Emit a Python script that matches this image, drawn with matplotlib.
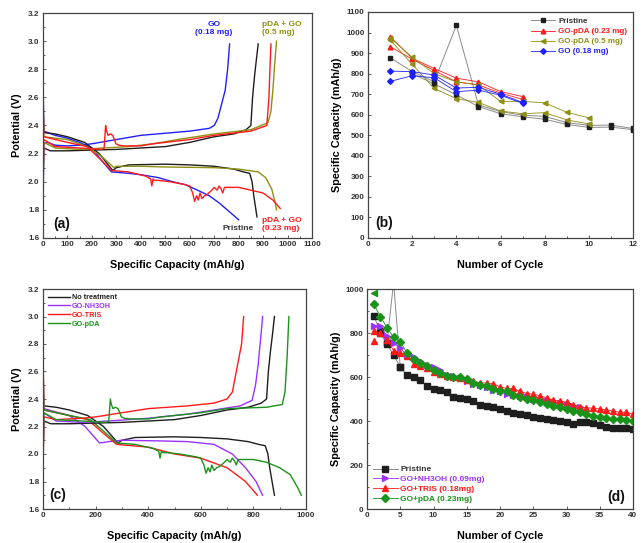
import matplotlib
matplotlib.use("Agg")
import matplotlib.pyplot as plt
import numpy as np
from matplotlib.ticker import MultipleLocator

plt.rcParams['font.family'] = ['Liberation Sans', 'DejaVu Sans']
plt.rcParams['font.weight'] = 'bold'

# ---------------- Panel (a) data: (capacity, potential) ----------------
a_go_dis_x = [0, 3, 50, 100, 150, 200, 240, 280, 350, 400, 470, 530, 580, 620, 680, 720, 760, 800]
a_go_dis_y = [2.8, 2.36, 2.33, 2.31, 2.28, 2.24, 2.15, 2.07, 2.06, 2.05, 2.03, 2.0, 1.98, 1.95, 1.9, 1.85, 1.79, 1.73]
a_go_chg_x = [0, 3, 20, 50, 100, 150, 200, 300, 400, 500, 600, 680, 700, 715, 730, 745, 755, 763]
a_go_chg_y = [1.7, 2.27, 2.28, 2.26, 2.255, 2.26, 2.27, 2.30, 2.33, 2.345, 2.36, 2.38, 2.40, 2.45, 2.55, 2.65, 2.8, 2.98]

a_pr_dis_x = [0, 3, 50, 100, 170, 230, 285, 300, 350, 500, 600, 700, 780, 820, 845, 855, 862, 875]
a_pr_dis_y = [2.7, 2.35, 2.34, 2.32, 2.28, 2.2, 2.08, 2.1, 2.12, 2.125, 2.12, 2.11, 2.09, 2.07, 2.06, 2.0, 1.9, 1.75]
a_pr_chg_x = [0, 3, 30, 100, 200, 300, 400, 500, 600, 700, 780, 830, 850, 857, 865, 872, 880]
a_pr_chg_y = [1.9, 2.24, 2.22, 2.22, 2.225, 2.23, 2.24, 2.25, 2.28, 2.32, 2.34, 2.37, 2.40, 2.6, 2.75, 2.86, 2.98]

a_p05_dis_x = [0, 3, 100, 180, 240, 290, 300, 400, 500, 700, 800, 880, 910, 935, 950, 955]
a_p05_dis_y = [2.6, 2.32, 2.3, 2.25, 2.18, 2.1, 2.11, 2.11, 2.105, 2.1, 2.09, 2.07, 2.03, 1.95, 1.85, 1.8]
a_p05_chg_x = [0, 3, 50, 150, 250, 350, 450, 550, 700, 850, 920, 932, 940, 948, 955]
a_p05_chg_y = [1.9, 2.28, 2.24, 2.23, 2.24, 2.25, 2.27, 2.30, 2.34, 2.37, 2.42, 2.5, 2.65, 2.85, 3.0]

a_p023_dis_x = [0, 3, 100, 180, 240, 280, 350, 420, 440, 445, 450, 455, 470, 520, 580, 600, 612, 620, 628, 635, 642, 650, 660, 672,
                690, 700, 712, 720, 728, 735, 742, 760, 800, 850, 900, 940, 970]
a_p023_dis_y = [2.6, 2.32, 2.28, 2.25, 2.15, 2.08, 2.07, 2.04, 2.02, 1.97, 2.02, 2.01, 2.01, 2.0, 1.98, 1.97, 1.92, 1.86, 1.9, 1.87, 1.92, 1.88, 1.9, 1.91,
                1.94, 1.96, 1.94, 1.97, 1.95, 1.92, 1.96, 1.96, 1.96, 1.94, 1.92, 1.87, 1.81]
a_p023_chg_x = [0, 3, 50, 150, 240, 250, 256, 260, 266, 275, 285, 292, 298, 310, 330, 400, 450, 600, 700, 850, 915, 924, 928, 932]
a_p023_chg_y = [1.9, 2.30, 2.25, 2.24, 2.23, 2.24, 2.40, 2.36, 2.33, 2.34, 2.33, 2.30, 2.27, 2.26, 2.255, 2.255, 2.27, 2.30, 2.33, 2.36, 2.40, 2.6, 2.8, 2.98]

# ---------------- Panel (c) data ----------------
c_nt_dis_x = a_pr_dis_x[:-1] + [880]
c_nt_dis_y = a_pr_dis_y[:-1] + [1.7]
c_nt_chg_x = a_pr_chg_x[:-1] + [880]
c_nt_chg_y = a_pr_chg_y[:-1] + [3.0]

c_nh_dis_x = [0, 3, 100, 160, 215, 250, 300, 450, 550, 650, 720, 770, 810, 835]
c_nh_dis_y = [2.5, 2.33, 2.28, 2.2, 2.08, 2.09, 2.1, 2.095, 2.09, 2.07, 2.0, 1.9, 1.8, 1.7]
c_nh_chg_x = [0, 3, 50, 150, 250, 400, 550, 650, 750, 795, 808, 818, 828, 835]
c_nh_chg_y = [1.9, 2.30, 2.24, 2.23, 2.24, 2.26, 2.29, 2.32, 2.35, 2.39, 2.5, 2.65, 2.85, 3.0]

c_tr_dis_x = [0, 3, 100, 170, 230, 280, 400, 500, 600, 700, 770, 815]
c_tr_dis_y = [2.8, 2.32, 2.28, 2.25, 2.15, 2.07, 2.05, 2.0, 1.97, 1.9, 1.8, 1.7]
c_tr_chg_x = [0, 3, 50, 150, 200, 300, 400, 550, 650, 700, 720, 740, 755, 763]
c_tr_chg_y = [1.8, 2.27, 2.25, 2.26, 2.27, 2.30, 2.33, 2.35, 2.37, 2.40, 2.45, 2.65, 2.8, 3.0]

c_pda_dis_x = a_p023_dis_x[:-3] + [900, 940, 970, 982]
c_pda_dis_y = a_p023_dis_y[:-3] + [1.9, 1.85, 1.75, 1.7]
c_pda_chg_x = [0, 3, 50, 150, 240, 250, 256, 260, 266, 275, 285, 292, 298, 310, 330, 400, 450, 600, 700, 850, 910, 920, 928, 935]
c_pda_chg_y = [1.9, 2.30, 2.25, 2.24, 2.23, 2.24, 2.40, 2.36, 2.33, 2.34, 2.33, 2.30, 2.27, 2.26, 2.255, 2.255, 2.27, 2.30, 2.33, 2.34, 2.36, 2.45, 2.7, 3.0]

# ---------------- Panel (b) data ----------------
b_cyc = list(range(1, 13))
b_pr_1 = [878, 810, 760, 1035, 648, 615, 598, 592, 562, 548, 550, 533]
b_pr_2 = [800, 750, 697, 640, 605, 590, 578, 553, 538, 540, 527]          # cycles 2-12
b_g023_1 = [980, 875, 825, 778, 760, 713, 688]
b_g023_2 = [932, 870, 815, 760, 745, 705, 675]
b_g05_1 = [975, 880, 800, 760, 745, 665, 665, 658, 612, 585]
b_g05_2 = [965, 845, 728, 678, 660, 618, 605, 610, 575, 555]
b_go_1 = [812, 810, 793, 730, 733, 700, 660]
b_go_2 = [762, 790, 780, 712, 720, 695, 655]

# ---------------- Panel (d) data ----------------
d_pr = [878, 810, 755, 1030, 645, 610, 598, 585, 560, 545, 543, 532, 510, 505, 500, 490, 473, 468, 465, 455,
        445, 435, 432, 428, 420, 415, 410, 405, 402, 395, 388, 395, 395, 390, 380, 375, 370, 368, 368, 365]
d_pr_2 = [800, 750, 700, 645]   # cycles 2-5
d_nh = [832, 830, 785, 755, 730, 700, 690, 672, 655, 645, 630, 610, 605, 595, 580, 570, 562, 555, 540, 535,
        525, 518, 515, 508, 500, 495, 490, 485, 480, 475, 468, 462]
d_tr = [810, 800, 770, 720, 710, 695, 660, 648, 640, 625, 615, 605, 598, 595, 585, 580, 575, 572, 570, 555,
        548, 548, 535, 525, 522, 515, 505, 495, 492, 485, 475, 465, 460, 458, 455, 450, 445, 440, 440, 430]
d_tr_first = [765]
d_pda = [932, 875, 825, 780, 760, 710, 680, 665, 650, 630, 620, 605, 598, 600, 590, 575, 565, 560, 545, 535,
         535, 520, 510, 498, 495, 485, 478, 470, 465, 455, 445, 440, 430, 425, 420, 415, 410, 408, 405, 400]
d_pda_first = [980]

BLACK = '#1e1e1e'
BLUE = '#2020ff'
RED = '#ff1a1a'
OLIVE = '#8f8f14'
GREEN = '#1a931a'
PURPLE = '#9a33ff'
GRAY = '#8a8a8a'

fig = plt.figure(figsize=(6.43, 5.43), dpi=100)
W, H = 643, 543
def add_ax(l, r, t, b):
    return fig.add_axes([l / W, 1 - b / H, (r - l) / W, (b - t) / H])

axA = add_ax(43, 312, 13, 238)
axB = add_ax(368, 633, 12, 238)
axC = add_ax(43, 306, 289, 509)
axD = add_ax(367, 633, 289, 509)

TICK_FS = 5.9
LAB_FS = 7.8
def style(ax):
    for s in ax.spines.values():
        s.set_color('#444444')
        s.set_linewidth(0.9)
    ax.tick_params(which='both', direction='in', colors='#444444', labelsize=TICK_FS, width=0.6)
    ax.tick_params(which='major', length=2.5, pad=2.5)
    ax.tick_params(which='minor', length=1.5)
    for lab in ax.get_xticklabels() + ax.get_yticklabels():
        lab.set_fontweight('bold')
        lab.set_color('#333333')

lw = 1.0
# Panel (a)
for xs, ys, c in [(a_go_dis_x, a_go_dis_y, BLUE), (a_go_chg_x, a_go_chg_y, BLUE),
                  (a_pr_dis_x, a_pr_dis_y, BLACK), (a_pr_chg_x, a_pr_chg_y, BLACK),
                  (a_p05_dis_x, a_p05_dis_y, OLIVE), (a_p05_chg_x, a_p05_chg_y, OLIVE),
                  (a_p023_dis_x, a_p023_dis_y, RED), (a_p023_chg_x, a_p023_chg_y, RED)]:
    axA.plot(xs, ys, color=c, lw=lw)
axA.set_xlim(0, 1100)
axA.set_ylim(1.6, 3.2)
axA.xaxis.set_major_locator(MultipleLocator(100))
axA.xaxis.set_minor_locator(MultipleLocator(50))
axA.yaxis.set_major_locator(MultipleLocator(0.2))
axA.yaxis.set_minor_locator(MultipleLocator(0.1))
axA.yaxis.set_major_formatter(matplotlib.ticker.FormatStrFormatter('%.1f'))
axA.set_xlabel('Specific Capacity (mAh/g)', fontsize=LAB_FS, fontweight='bold', labelpad=8)
axA.set_ylabel('Potential (V)', fontsize=LAB_FS, fontweight='bold', labelpad=4)
style(axA)
axA.text(40, 1.70, '(a)', fontsize=10, fontweight='bold', ha='left', va='center', color='#111111')
axA.text(700, 3.04, 'GO\n(0.18 mg)', color=BLUE, fontsize=6, fontweight='bold', ha='center', va='bottom', linespacing=1.1)
axA.text(895, 3.04, 'pDA + GO\n(0.5 mg)', color=OLIVE, fontsize=6, fontweight='bold', ha='left', va='bottom', linespacing=1.1)
axA.text(735, 1.665, 'Pristine', color='#333333', fontsize=6, fontweight='bold', ha='left', va='center')
axA.text(895, 1.695, 'pDA + GO\n(0.23 mg)', color=RED, fontsize=6, fontweight='bold', ha='left', va='center', linespacing=1.1)

# Panel (b)
ms = 3.4
axB.plot(b_cyc, b_pr_1, color=GRAY, lw=0.7, marker='s', ms=ms, mfc=BLACK, mec=BLACK, label='Pristine')
axB.plot(b_cyc[1:], b_pr_2, color=GRAY, lw=0.7, marker='s', ms=ms, mfc=BLACK, mec=BLACK)
axB.plot(b_cyc[:7], b_g023_1, color=RED, lw=0.6, marker='^', ms=ms, mfc=RED, mec=RED, label='GO-pDA (0.23 mg)')
axB.plot(b_cyc[:7], b_g023_2, color=RED, lw=0.6, marker='^', ms=ms, mfc=RED, mec=RED)
axB.plot(b_cyc[:10], b_g05_1, color=OLIVE, lw=0.6, marker='<', ms=ms, mfc=OLIVE, mec=OLIVE, label='GO-pDA (0.5 mg)')
axB.plot(b_cyc[:10], b_g05_2, color=OLIVE, lw=0.6, marker='<', ms=ms, mfc=OLIVE, mec=OLIVE)
axB.plot(b_cyc[:7], b_go_1, color=BLUE, lw=0.6, marker='D', ms=ms - 0.5, mfc=BLUE, mec=BLUE, label='GO (0.18 mg)')
axB.plot(b_cyc[:7], b_go_2, color=BLUE, lw=0.6, marker='D', ms=ms - 0.5, mfc=BLUE, mec=BLUE)
axB.set_xlim(0, 12)
axB.set_ylim(0, 1100)
axB.xaxis.set_major_locator(MultipleLocator(2))
axB.xaxis.set_minor_locator(MultipleLocator(1))
axB.yaxis.set_major_locator(MultipleLocator(100))
axB.set_xlabel('Number of Cycle', fontsize=LAB_FS, fontweight='bold', labelpad=8)
axB.set_ylabel('Specific Capacity (mAh/g)', fontsize=LAB_FS, fontweight='bold', labelpad=3)
style(axB)
axB.text(0.35, 75, '(b)', fontsize=10, fontweight='bold', ha='left', va='center', color='#111111')
legB = axB.legend(loc='upper right', frameon=False, handlelength=3.0, handletextpad=0.4,
                  labelspacing=0.3, borderaxespad=0.3, prop={'weight': 'bold', 'size': 5.8})
for t, c in zip(legB.get_texts(), ['#333333', RED, OLIVE, BLUE]):
    t.set_color(c)

# Panel (c)
axC.plot(c_nt_dis_x, c_nt_dis_y, color=BLACK, lw=lw, label='No treatment')
axC.plot(c_nh_dis_x, c_nh_dis_y, color=PURPLE, lw=lw, label='GO-NH3OH')
axC.plot(c_tr_dis_x, c_tr_dis_y, color=RED, lw=lw, label='GO-TRIS')
axC.plot(c_pda_dis_x, c_pda_dis_y, color=GREEN, lw=lw, label='GO-pDA')
axC.plot(c_nt_chg_x, c_nt_chg_y, color=BLACK, lw=lw)
axC.plot(c_nh_chg_x, c_nh_chg_y, color=PURPLE, lw=lw)
axC.plot(c_tr_chg_x, c_tr_chg_y, color=RED, lw=lw)
axC.plot(c_pda_chg_x, c_pda_chg_y, color=GREEN, lw=lw)
axC.set_xlim(0, 1000)
axC.set_ylim(1.6, 3.2)
axC.xaxis.set_major_locator(MultipleLocator(200))
axC.xaxis.set_minor_locator(MultipleLocator(100))
axC.yaxis.set_major_locator(MultipleLocator(0.2))
axC.yaxis.set_minor_locator(MultipleLocator(0.1))
axC.yaxis.set_major_formatter(matplotlib.ticker.FormatStrFormatter('%.1f'))
axC.set_xlabel('Specific Capacity (mAh/g)', fontsize=LAB_FS, fontweight='bold', labelpad=8)
axC.set_ylabel('Potential (V)', fontsize=LAB_FS, fontweight='bold', labelpad=4)
style(axC)
axC.text(25, 1.7, '(c)', fontsize=10, fontweight='bold', ha='left', va='center', color='#111111')
legC = axC.legend(loc='upper left', frameon=False, handlelength=3.0, handletextpad=0.3,
                  labelspacing=0.25, borderaxespad=0.3, prop={'weight': 'bold', 'size': 5.2})
for t, c in zip(legC.get_texts(), ['#222222', PURPLE, RED, GREEN]):
    t.set_color(c)

# Panel (d)
d_cyc = np.arange(1, 41)
ms = 4.2
axD.plot(d_cyc, d_pr, color=GRAY, lw=0.7, marker='s', ms=ms, mfc=BLACK, mec=BLACK, label='Pristine')
axD.plot(d_cyc[1:5], d_pr_2, color=GRAY, lw=0.7, marker='s', ms=ms, mfc=BLACK, mec=BLACK)
axD.plot(d_cyc[:len(d_nh)], d_nh, color=PURPLE, lw=0.6, marker='>', ms=ms, mfc=PURPLE, mec=PURPLE, label='GO+NH3OH (0.09mg)')
axD.plot(d_cyc, d_tr, color=RED, lw=0.6, marker='^', ms=ms, mfc=RED, mec=RED, label='GO+TRIS (0.18mg)')
axD.plot(d_cyc[:1], d_tr_first, color=RED, lw=0, marker='^', ms=ms, mfc=RED, mec=RED)
axD.plot(d_cyc, d_pda, color=GREEN, lw=0.6, marker='D', ms=ms - 0.5, mfc=GREEN, mec=GREEN, label='GO+pDA (0.23mg)')
axD.plot(d_cyc[:1], d_pda_first, color=GREEN, lw=0, marker='<', ms=ms, mfc=GREEN, mec=GREEN)
axD.set_xlim(0, 40)
axD.set_ylim(0, 1000)
axD.xaxis.set_major_locator(MultipleLocator(5))
axD.yaxis.set_major_locator(MultipleLocator(200))
axD.yaxis.set_minor_locator(MultipleLocator(100))
axD.set_xlabel('Number of Cycle', fontsize=LAB_FS, fontweight='bold', labelpad=8)
axD.set_ylabel('Specific Capacity (mAh/g)', fontsize=LAB_FS, fontweight='bold', labelpad=3)
style(axD)
axD.text(38.8, 55, '(d)', fontsize=10, fontweight='bold', ha='right', va='center', color='#111111')
legD = axD.legend(loc='lower left', frameon=False, handlelength=3.0, handletextpad=0.3,
                  labelspacing=0.25, borderaxespad=0.3, prop={'weight': 'bold', 'size': 6.0})
for t, c in zip(legD.get_texts(), ['#333333', PURPLE, RED, GREEN]):
    t.set_color(c)

fig.savefig('out.png', dpi=100)
